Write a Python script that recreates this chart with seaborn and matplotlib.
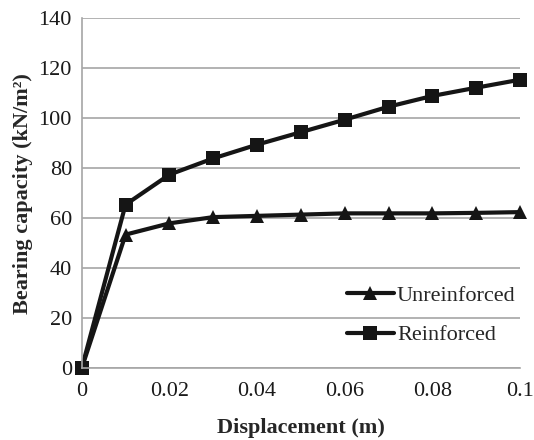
import numpy as np
import pandas as pd
import matplotlib
matplotlib.use("Agg")
import matplotlib.pyplot as plt
import seaborn as sns

# Load-displacement readings
displacement = [0, 0.01, 0.02, 0.03, 0.04, 0.05, 0.06, 0.07, 0.08, 0.09, 0.1]
unreinforced = [0, 53.5, 58, 60.5, 61, 61.5, 62, 62, 62, 62.2, 62.5]
reinforced = [0, 65.5, 77.5, 84, 89.5, 94.5, 99.5, 104.7, 109, 112.3, 115.5]
series_names = ["Unreinforced", "Reinforced"]
x_ticks = [0, 0.02, 0.04, 0.06, 0.08, 0.1]
x_tick_labels = ["0", "0.02", "0.04", "0.06", "0.08", "0.1"]
y_ticks = [0, 20, 40, 60, 80, 100, 120, 140]

df = pd.DataFrame({
    "Displacement": displacement * 2,
    "Capacity": unreinforced + reinforced,
    "Case": [series_names[0]] * len(displacement) + [series_names[1]] * len(displacement),
})

sns.set_style("white")
plt.rcParams["font.family"] = ["Liberation Serif", "DejaVu Serif"]

fig = plt.figure(figsize=(5.34, 4.40), dpi=100)
ax = fig.add_axes([0.153, 0.163, 0.821, 0.795])

sns.lineplot(
    data=df, x="Displacement", y="Capacity", hue="Case", style="Case",
    markers={"Unreinforced": "^", "Reinforced": "s"}, dashes=False,
    palette={"Unreinforced": "#151515", "Reinforced": "#151515"},
    linewidth=3.0, markersize=10, markeredgewidth=0, ax=ax,
)
for line in ax.lines:
    line.set_clip_on(False)

ax.set_xlim(0, 0.1)
ax.set_ylim(0, 140)
ax.set_xticks(x_ticks)
ax.set_xticklabels(x_tick_labels)
ax.set_yticks(y_ticks)
ax.yaxis.grid(True, color="#a6a6a6", linewidth=1.2)
ax.xaxis.grid(False)
ax.set_axisbelow(True)
for side in ["top", "right"]:
    ax.spines[side].set_visible(False)
for side in ["left", "bottom"]:
    ax.spines[side].set_color("#a6a6a6")
    ax.spines[side].set_linewidth(1.2)
ax.tick_params(axis="both", direction="out", length=4, width=1.0,
               color="#a6a6a6", labelsize=16, labelcolor="#1a1a1a", pad=3)
ax.tick_params(axis="x", pad=6)

ax.set_xlabel("Displacement (m)", fontsize=16, fontweight="bold", labelpad=12)
ax.set_ylabel("Bearing capacity (kN/m²)", fontsize=16, fontweight="bold", labelpad=4)

leg = ax.legend(loc="lower right", bbox_to_anchor=(1.01, 0.04), frameon=False,
                fontsize=16, handlelength=2.1, handletextpad=0.15,
                borderaxespad=0.0, labelspacing=0.85, title=None)
for h in leg.legend_handles:
    h.set_linewidth(3.0)

fig.savefig("out.png", dpi=100)
